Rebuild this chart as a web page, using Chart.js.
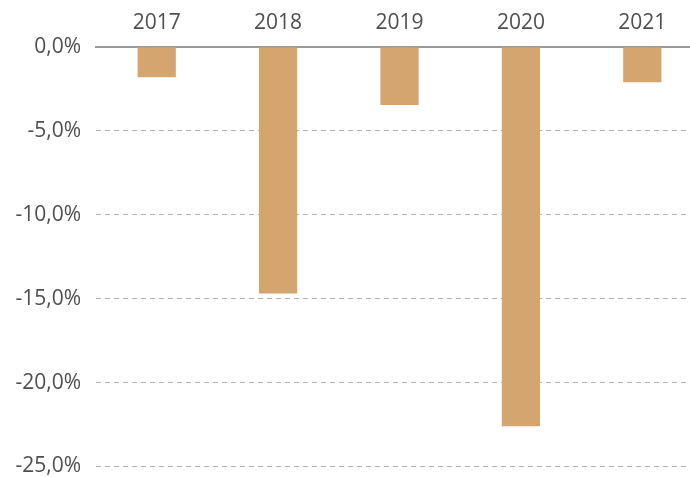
<!DOCTYPE html>
<html>
<head>
<meta charset="utf-8">
<script src="https://cdn.jsdelivr.net/npm/chart.js@4"></script>
<style>
  html, body { margin: 0; padding: 0; background: #fff; overflow: hidden; }
  #wrap { position: absolute; left: 0; top: 0; width: 703px; height: 494px; }
</style>
</head>
<body>
<div id="wrap"><canvas id="c" width="703" height="494"></canvas></div>
<script>
const categories = ["2017", "2018", "2019", "2020", "2021"];
const values = [-1.8, -14.7, -3.45, -22.6, -2.1];
const yTicks = [0, -5, -10, -15, -20, -25];

const barColor = "#D4A56F";
const textColor = "#4f4f4f";
const fontFamily = "'Open Sans', 'Noto Sans', sans-serif";

new Chart(document.getElementById("c"), {
  type: "bar",
  data: {
    labels: categories,
    datasets: [{
      data: values,
      backgroundColor: barColor,
      borderWidth: 0,
      categoryPercentage: 1,
      barPercentage: 0.315
    }]
  },
  options: {
    responsive: false,
    animation: false,
    devicePixelRatio: 1,
    layout: { padding: { left: 0, right: 0, top: 0, bottom: 10 } },
    plugins: { legend: { display: false }, tooltip: { enabled: false } },
    scales: {
      x: {
        position: "top",
        grid: { display: false, drawTicks: false },
        border: { display: true, color: "#9a9a9a", width: 2 },
        ticks: {
          color: textColor,
          font: { family: fontFamily, size: 21 },
          padding: 11
        },
        afterFit: (s) => { s.height = 47; }
      },
      y: {
        min: -25,
        max: 0,
        afterBuildTicks: (s) => { s.ticks = yTicks.map(v => ({ value: v })); },
        grid: {
          color: (ctx) => ctx.tick && ctx.tick.value === 0 ? "rgba(0,0,0,0)" : "#b5b5b5",
          lineWidth: 1,
          drawTicks: false
        },
        border: { display: false, dash: [5, 4] },
        ticks: {
          color: textColor,
          font: { family: fontFamily, size: 21 },
          padding: 15,
          callback: (v) => v.toFixed(1).replace(".", ",") + "%"
        },
        afterFit: (s) => { s.width = 96; }
      }
    }
  }
});
</script>
</body>
</html>
